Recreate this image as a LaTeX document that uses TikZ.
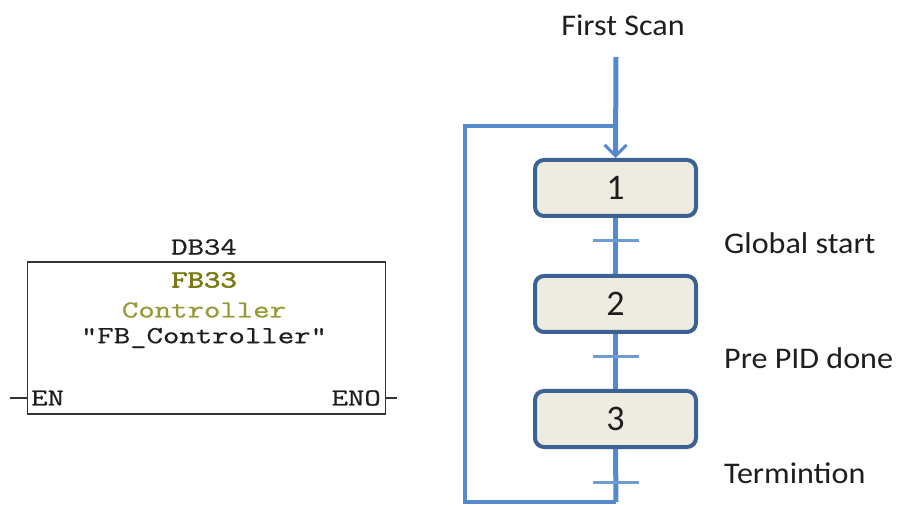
\documentclass[tikz,border=0pt]{standalone}
\usepackage{fontspec}
\setmainfont{Carlito}
\newfontfamily\plcfont[FakeBold=0.7]{Latin Modern Mono}
\newfontfamily\plcbold[FakeBold=2.2]{Latin Modern Mono}
\usetikzlibrary{arrows.meta}
\definecolor{flowblue}{RGB}{84,137,204}
\definecolor{stepedge}{RGB}{60,98,148}
\definecolor{stepfill}{RGB}{238,236,225}
\definecolor{oliveA}{RGB}{122,122,20}
\definecolor{oliveB}{RGB}{152,152,52}
\definecolor{inktext}{RGB}{30,30,30}
\tikzset{
  plc/.style={font=\plcfont\fontsize{24.5}{24.5}\selectfont, text=inktext, inner sep=0pt},
  plcbox/.style={draw=black!80, line width=1.3pt, minimum width=358pt, minimum height=152pt, inner sep=0pt},
  stepbox/.style={draw=stepedge, fill=stepfill, line width=4pt, rounded corners=9pt,
    minimum width=161pt, minimum height=56pt, inner sep=0pt,
    font=\fontsize{36}{36}\selectfont, text=inktext},
  flow/.style={draw=flowblue, line width=5pt},
  loopline/.style={draw=flowblue, line width=4pt},
  tick/.style={draw=flowblue!85, line width=3pt},
  lbl/.style={font=\fontsize{30}{30}\selectfont, text=inktext, inner sep=0pt}
}
\newcommand{\wide}[1]{\scalebox{1.3}[1]{#1}}
\begin{document}
\begin{tikzpicture}[x=1pt,y=-1pt]
\useasboundingbox (0,0) rectangle (898,505);

% function block call
\node[plcbox] (fb) at (206.5,338) {};
\node[plc] (db) at (204,247) {\wide{DB34}};
\node[plc, text=oliveA] (fbno) at (204,280) {\wide{\plcbold FB33}};
\node[plc, text=oliveB] (fbname) at (204,310) {\wide{Controller}};
\node[plc] (fbsym) at (204,338) {\wide{"FB\_Controller"}};
\node[plc, anchor=west] (en) at (31,398) {\wide{EN}};
\node[plc, anchor=east] (eno) at (381,398) {\wide{ENO}};
\coordinate (enin) at (10,398);
\coordinate (enout) at (397,398);
\draw[black!80, line width=1.3pt] (enin) -- (fb.west |- enin);
\draw[black!80, line width=1.3pt] (fb.east |- enout) -- (enout);

% sequence of steps
\node[lbl] (fs) at (623,25) {\scalebox{1.07}[1]{First Scan}};
\node[stepbox] (s1) at (615.5,188) {1};
\node[stepbox] (s2) at (615.5,304) {2};
\node[stepbox] (s3) at (615.5,419) {3};

\coordinate (fstop) at (616,57);
\coordinate (join) at (616,126);
\coordinate (t1) at (616,241);
\coordinate (t2) at (616,357);
\coordinate (t3) at (616,482);
\coordinate (bot) at (616,502);
\coordinate (botleft) at (465,502);
\coordinate (topleft) at (465,126);

\draw[flow, -{Straight Barb[length=11pt,width=22pt,line width=3pt]}] (fstop) -- (s1.north);
\draw[flow] (s1.south) -- (s2.north);
\draw[flow] (s2.south) -- (s3.north);
\draw[flow] (s3.south) -- (bot);
\draw[loopline, line join=miter] (bot) -- (botleft) -- (topleft) -- (join);

% transitions
\foreach \t in {t1,t2,t3}
  \draw[tick] ([xshift=-23pt]\t) -- ([xshift=23pt]\t);

\node[lbl, anchor=west] (c1) at (724,243) {\scalebox{1.07}[1]{Global start}};
\node[lbl, anchor=west] (c2) at (724,358) {\scalebox{1.07}[1]{Pre PID done}};
\node[lbl, anchor=west] (c3) at (724,473) {\scalebox{1.07}[1]{Termintion}};
\end{tikzpicture}
\end{document}
